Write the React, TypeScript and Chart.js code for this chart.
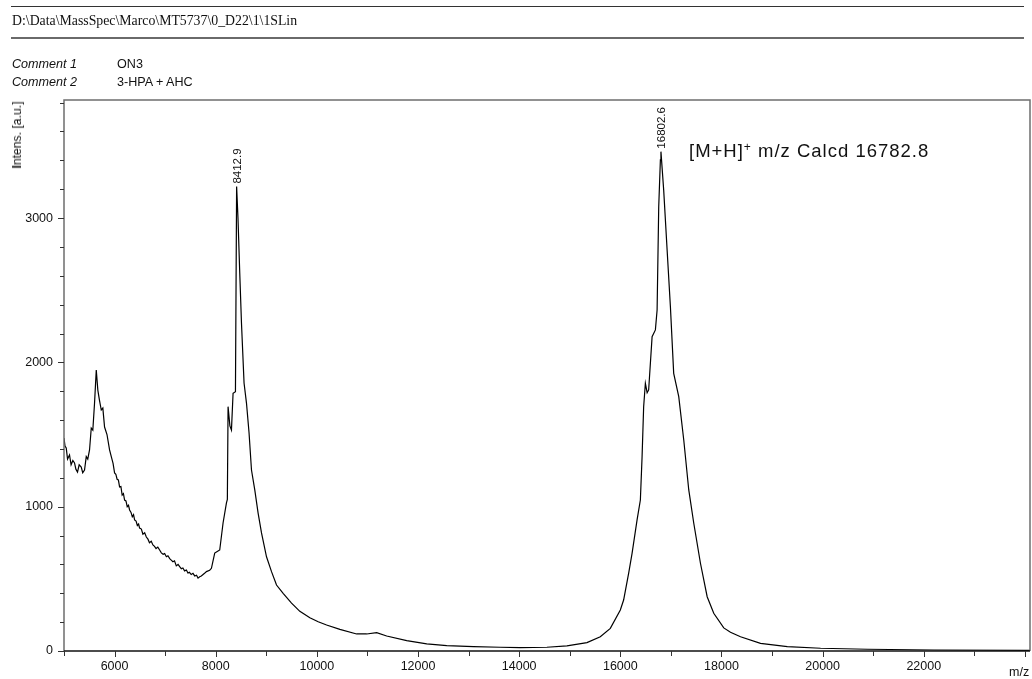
import React, { useEffect, useRef } from "react";
import { Chart, registerables } from "chart.js";

Chart.register(...registerables);

// Spectrum (m/z vs intensity)
const mzValues = [
  5000, 5020, 5044, 5070, 5109, 5140, 5175, 5208, 5235, 5267, 5300, 5341, 5370, 5406, 5440,
  5470, 5505, 5539, 5570, 5604, 5638, 5669, 5700, 5737, 5768, 5802, 5850, 5901, 5935, 5970,
  6000, 6025, 6050, 6075, 6099, 6125, 6150, 6175, 6198, 6225, 6250, 6275, 6297, 6325, 6350,
  6375, 6396, 6425, 6450, 6475, 6495, 6530, 6560, 6595, 6628, 6660, 6690, 6725, 6758, 6790,
  6820, 6855, 6891, 6925, 6960, 6990, 7024, 7055, 7090, 7120, 7154, 7185, 7220, 7255, 7287,
  7320, 7350, 7385, 7420, 7450, 7480, 7515, 7550, 7585, 7620, 7650, 7683, 7715, 7750, 7785,
  7816, 7880, 7915, 7980, 8030, 8079, 8145, 8212, 8230, 8244, 8280, 8311, 8343, 8390, 8413,
  8440, 8475, 8509, 8560, 8608, 8659, 8707, 8772, 8838, 8905, 9004, 9103, 9202, 9333, 9499,
  9663, 9861, 10026, 10192, 10455, 10786, 10984, 11182, 11380, 11776, 12172, 12568, 13095,
  13624, 14020, 14548, 14944, 15340, 15604, 15802, 16000, 16065, 16164, 16232, 16331, 16396,
  16430, 16461, 16495, 16530, 16560, 16628, 16693, 16727, 16759, 16792, 16803, 16857, 16925,
  16990, 17055, 17155, 17254, 17353, 17452, 17584, 17717, 17847, 18045, 18178, 18376, 18772,
  19301, 19960, 20885, 22204, 23980, 24100,
];
const intensityValues = [
  1476, 1420, 1407, 1330, 1358, 1290, 1320, 1303, 1260, 1240, 1290, 1275, 1235, 1254, 1347,
  1330, 1393, 1545, 1531, 1718, 1947, 1808, 1740, 1670, 1683, 1552, 1500, 1393, 1347, 1300,
  1234, 1225, 1190, 1185, 1137, 1140, 1080, 1090, 1046, 1040, 1000, 1010, 977, 960, 930,
  945, 908, 900, 870, 880, 852, 845, 810, 820, 790, 775, 750, 760, 735, 725,
  710, 720, 700, 680, 670, 675, 653, 660, 640, 630, 619, 625, 590, 600, 584,
  570, 575, 555, 561, 540, 545, 530, 538, 520, 525, 505, 515, 520, 530, 540,
  550, 560, 573, 679, 690, 700, 887, 1026, 1050, 1693, 1560, 1531, 1786, 1797, 3218,
  3000, 2619, 2273, 1857, 1718, 1511, 1254, 1116, 956, 818, 653, 550, 457, 400, 332,
  275, 230, 203, 180, 150, 118, 118, 127, 104, 72, 49, 37, 30,
  26, 23, 26, 35, 58, 99, 157, 284, 353, 538, 677, 908, 1046,
  1347, 1693, 1855, 1790, 1809, 2178, 2225, 2363, 3079, 3403, 3460, 3195, 2779,
  2386, 1924, 1762, 1462, 1116, 885, 608, 376, 261, 160, 130, 99, 53,
  30, 19, 12, 7, 5, 5,
];

// Axis ticks
const xTickValues = [
  5000, 6000, 7000, 8000, 9000, 10000, 11000, 12000, 13000, 14000, 15000, 16000, 17000, 18000,
  19000, 20000, 21000, 22000, 23000, 24000,
];
const xLabelValues = [6000, 8000, 10000, 12000, 14000, 16000, 18000, 20000, 22000];
const yTickValues = [
  0, 200, 400, 600, 800, 1000, 1200, 1400, 1600, 1800, 2000, 2200, 2400, 2600, 2800, 3000, 3200,
  3400, 3600, 3800,
];
const yLabelValues = [0, 1000, 2000, 3000];

// Peak annotations
const peakMz = [8412.9, 16802.6];
const peakIntensity = [3218, 3460];
const peakText = ["8412.9", "16802.6"];

const X_MIN = 5000;
const X_MAX = 24100;
const Y_MIN = 0;
const Y_MAX = 3818;

const SANS = "'Liberation Sans', Arial, Helvetica, sans-serif";

export default function App() {
  const canvasRef = useRef<HTMLCanvasElement | null>(null);

  useEffect(() => {
    const canvas = canvasRef.current;
    if (!canvas) return;

    const decor = {
      id: "decor",
      afterDraw(chart: any) {
        const ctx = chart.ctx;
        const xs = chart.scales.x;
        const ys = chart.scales.y;
        const a = chart.chartArea;
        ctx.save();
        // frame
        ctx.strokeStyle = "#6e6e6e";
        ctx.lineWidth = 1.5;
        ctx.beginPath();
        ctx.moveTo(a.left, a.bottom);
        ctx.lineTo(a.left, a.top);
        ctx.lineTo(a.right, a.top);
        ctx.lineTo(a.right, a.bottom);
        ctx.stroke();
        ctx.strokeStyle = "#111";
        ctx.lineWidth = 1.5;
        ctx.beginPath();
        ctx.moveTo(a.left, a.bottom);
        ctx.lineTo(a.right, a.bottom);
        ctx.stroke();
        // ticks
        ctx.lineWidth = 1;
        ctx.strokeStyle = "#333";
        ctx.beginPath();
        xTickValues.forEach((v) => {
          const px = Math.round(xs.getPixelForValue(v)) + 0.5;
          const len = v % 2000 === 0 ? 6 : 5;
          ctx.moveTo(px, a.bottom);
          ctx.lineTo(px, a.bottom + len);
        });
        yTickValues.forEach((v) => {
          const py = Math.round(ys.getPixelForValue(v)) + 0.5;
          const len = v % 1000 === 0 ? 6 : 4;
          ctx.moveTo(a.left - len, py);
          ctx.lineTo(a.left, py);
        });
        ctx.stroke();
        // peak labels
        ctx.fillStyle = "#111";
        ctx.font = `11.5px ${SANS}`;
        ctx.textAlign = "left";
        ctx.textBaseline = "middle";
        peakMz.forEach((m, i) => {
          const px = xs.getPixelForValue(m);
          const py = ys.getPixelForValue(peakIntensity[i]);
          ctx.save();
          ctx.translate(px + 1, py - 3);
          ctx.rotate(-Math.PI / 2);
          ctx.fillText(peakText[i], 0, 0);
          ctx.restore();
        });
        ctx.restore();
      },
    };

    const chart = new Chart(canvas, {
      type: "line",
      data: {
        datasets: [
          {
            data: mzValues.map((m, i) => ({ x: m, y: intensityValues[i] })),
            borderColor: "#000",
            borderWidth: 1.2,
            pointRadius: 0,
            fill: false,
            tension: 0,
          },
        ],
      },
      options: {
        animation: false,
        responsive: false,
        devicePixelRatio: 1,
        layout: { padding: { top: 100, right: 2, left: 0, bottom: 0 } },
        plugins: { legend: { display: false }, tooltip: { enabled: false } },
        scales: {
          x: {
            type: "linear",
            min: X_MIN,
            max: X_MAX,
            afterBuildTicks: (s: any) => {
              s.ticks = xTickValues.map((v) => ({ value: v }));
            },
            afterFit: (s: any) => {
              s.height = 28;
            },
            border: { display: false },
            grid: {
              drawOnChartArea: false,
              drawTicks: true,
              tickLength: 6,
              color: "rgba(0,0,0,0)",
            },
            ticks: {
              autoSkip: false,
              maxRotation: 0,
              padding: 2,
              color: "#111",
              font: { family: SANS, size: 12.5 },
              callback: (v: any) => (xLabelValues.includes(Number(v)) ? String(v) : ""),
            },
          },
          y: {
            type: "linear",
            min: Y_MIN,
            max: Y_MAX,
            afterBuildTicks: (s: any) => {
              s.ticks = yTickValues.map((v) => ({ value: v }));
            },
            afterFit: (s: any) => {
              s.width = 64;
            },
            border: { display: false },
            grid: {
              drawOnChartArea: false,
              drawTicks: true,
              tickLength: 6,
              color: "rgba(0,0,0,0)",
            },
            ticks: {
              autoSkip: false,
              padding: 5,
              color: "#111",
              font: { family: SANS, size: 12.5 },
              callback: (v: any) => (yLabelValues.includes(Number(v)) ? String(v) : ""),
            },
          },
        },
      },
      plugins: [decor],
    });

    return () => chart.destroy();
  }, []);

  const abs = (extra: React.CSSProperties): React.CSSProperties => ({
    position: "absolute",
    whiteSpace: "nowrap",
    color: "#111",
    ...extra,
  });

  return (
    <div style={{ position: "absolute", left: 0, top: 0, width: 1032, height: 679, background: "#fff", overflow: "hidden" }}>
      <canvas ref={canvasRef} width={1032} height={679} style={{ position: "absolute", left: 0, top: 0 }} />
      <div style={abs({ left: 11, top: 6, width: 1013, height: 1, background: "#333" })} />
      <div style={abs({ left: 11, top: 37, width: 1013, height: 2, background: "#6a6a6a" })} />
      <div style={abs({ left: 12, top: 13, fontFamily: "'Liberation Serif', 'Times New Roman', serif", fontSize: 13.8, lineHeight: "16px" })}>
        D:\Data\MassSpec\Marco\MT5737\0_D22\1\1SLin
      </div>
      <div style={abs({ left: 12, top: 56.5, fontFamily: SANS, fontSize: 12.6, lineHeight: "14px", fontStyle: "italic" })}>Comment 1</div>
      <div style={abs({ left: 117, top: 56.5, fontFamily: SANS, fontSize: 12.6, lineHeight: "14px" })}>ON3</div>
      <div style={abs({ left: 12, top: 74.5, fontFamily: SANS, fontSize: 12.6, lineHeight: "14px", fontStyle: "italic" })}>Comment 2</div>
      <div style={abs({ left: 117, top: 74.5, fontFamily: SANS, fontSize: 12.6, lineHeight: "14px" })}>3-HPA + AHC</div>
      <div
        style={abs({
          left: 17,
          top: 135,
          fontFamily: SANS,
          fontSize: 12.2,
          lineHeight: "14px",
          transform: "translate(-50%, -50%) rotate(-90deg)",
        })}
      >
        <span style={{ fontWeight: "bold" }}>I</span>ntens. [a.u.]
      </div>
      <div style={abs({ left: 689, top: 141, fontFamily: SANS, fontSize: 18.5, lineHeight: "20px", letterSpacing: "1px" })}>
        [M+H]<sup style={{ fontSize: 12, verticalAlign: "6px", lineHeight: 0 }}>+</sup> m/z Calcd 16782.8
      </div>
      <div style={abs({ left: 1009, top: 665, fontFamily: SANS, fontSize: 12.5, lineHeight: "14px" })}>m/z</div>
    </div>
  );
}
